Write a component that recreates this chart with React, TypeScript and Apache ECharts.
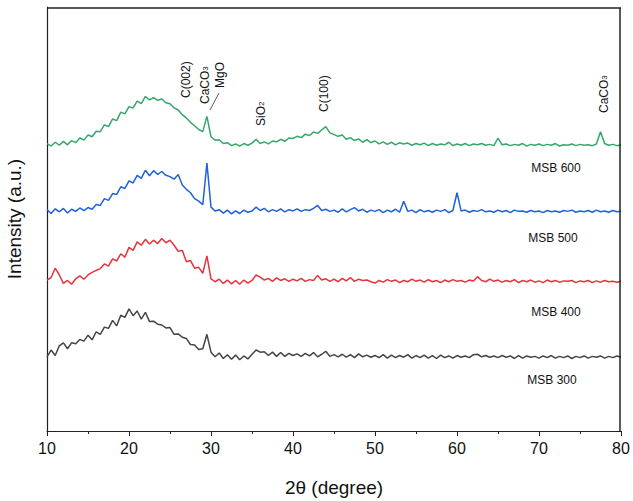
import React, { useEffect, useRef } from 'react';
import * as echarts from 'echarts';

// 2θ from 10 to 80 in 0.5° steps
const twoTheta: number[] = Array.from({ length: 141 }, (_, i) => 10 + i * 0.5);

// relative intensities (a.u.), one row = 5°
const msb300 = [
  0.3, 1.9, 0.6, 2.9, 3.6, 2.2, 3.6, 3.4, 4.4, 4.0,
  5.4, 4.3, 6.2, 5.6, 7.3, 7.0, 8.9, 7.6, 10.1, 9.6,
  11.6, 10.0, 11.1, 9.2, 10.8, 8.6, 8.7, 8.0, 7.8, 7.1,
  7.2, 5.6, 5.7, 4.9, 4.6, 3.2, 3.1, 2.0, 2.2, 5.6,
  1.4, 0.3, 1.2, -0.1, 0.8, -0.3, 0.7, -0.4, 0.5, -0.2,
  0.9, 1.9, 1.4, 1.5, 0.6, 1.4, 0.4, 1.3, 0.4, 1.1,
  0.6, 1.0, 0.4, 1.1, 0.5, 1.3, 0.3, 0.9, 1.6, 0.4,
  0.8, 0.3, 0.9, 0.2, 0.8, 0.1, 1.0, 0.3, 0.7, 0.2,
  0.6, 0.1, 0.8, 0.0, 0.7, 0.1, 0.6, 0.2, 0.8, 0.0,
  0.6, 0.1, 0.7, 0.0, 0.6, -0.1, 0.7, 0.1, 0.5, 0.0,
  0.6, 0.2, 0.5, 0.1, 0.8, 0.9, 0.3, 0.6, 0.2, 0.5,
  0.1, 0.6, 0.2, 0.5, -0.1, 0.6, 0.0, 0.5, 0.2, 0.4,
  0.0, 0.5, 0.1, 0.6, 0.0, 0.4, 0.1, 0.5, -0.1, 0.4,
  0.1, 0.5, 0.0, 0.4, 0.2, 0.5, 0.0, 0.4, 0.1, 0.5,
  0.2,
];

const msb400 = [
  0.6, 1.2, 3.4, 1.8, -0.2, 0.5, -0.4, 0.9, 1.6, 0.8,
  1.8, 2.4, 2.9, 3.3, 4.4, 3.9, 5.6, 5.1, 6.8, 6.0,
  8.3, 7.6, 9.6, 8.8, 10.2, 9.1, 10.0, 9.2, 10.4, 9.4,
  10.0, 8.8, 7.4, 7.6, 4.9, 5.2, 3.4, 3.6, 2.2, 6.3,
  0.9, 0.2, 0.8, -0.2, 0.6, -0.3, 0.5, -0.4, 0.6, -0.1,
  0.5, 1.8, 1.3, 0.6, 1.0, 0.3, 1.1, 0.5, 0.9, 0.3,
  0.8, 0.4, 1.0, 0.3, 0.7, 0.5, 1.7, 0.6, 0.9, 0.3,
  0.8, 0.2, 1.0, 0.4, 1.2, 0.3, 0.8, 0.5, 0.6, 0.2,
  -0.1, 0.5, 0.1, 0.7, 0.3, 0.6, 0.0, 0.5, 0.2, 0.8,
  0.3, 0.6, 0.1, 0.7, 0.2, 0.5, 0.0, 0.6, 0.2, 0.7,
  0.3, 0.5, 0.1, 0.6, 0.4, 1.4, 0.5, 0.2, 0.8, 0.3,
  0.6, 0.1, 0.5, 0.2, 0.7, 0.0, 0.5, 0.2, 0.6, 0.1,
  0.4, 0.0, 0.6, 0.2, 0.5, 0.1, 0.4, 0.3, 0.5, 0.0,
  0.4, 0.2, 0.5, 0.0, 0.4, 0.1, 0.5, 0.2, 0.3, 0.1,
  0.3,
];

const msb500 = [
  0.6, -0.3, 0.8, 0.1, 0.9, -0.2, 0.7, 0.2, 1.0, 0.4,
  1.1, 0.7, 1.8, 1.6, 3.2, 2.8, 4.4, 4.2, 6.0, 5.6,
  7.4, 6.9, 8.7, 8.0, 9.9, 8.6, 9.8, 8.9, 9.6, 8.7,
  8.4, 7.8, 8.9, 6.4, 5.4, 4.6, 3.2, 2.6, 1.8, 11.6,
  1.2, 0.3, 0.6, -0.2, 0.5, -0.4, 0.3, -0.3, 0.5, 0.0,
  0.3, 1.2, 0.4, 0.9, 0.1, 0.6, 0.2, 0.8, 0.1, 0.6,
  0.3, 0.8, 0.2, 0.6, 0.4, 0.9, 1.6, 0.4, 0.7, 0.2,
  0.5, 0.0, 0.8, 0.1, 0.6, 1.1, 0.3, 0.7, 0.0, 0.5,
  0.2, 0.6, -0.1, 0.5, 0.1, 0.7, 0.0, 2.6, 0.2, 0.5,
  -0.1, 0.6, 0.1, 0.4, 0.0, 0.5, 0.2, 0.6, -0.1, 0.4,
  4.6, 0.3, 0.5, 0.0, 0.4, 0.2, 0.6, 0.1, 0.3, 0.0,
  0.5, 0.1, 0.4, -0.1, 0.5, 0.2, 0.3, 0.0, 0.4, 0.1,
  0.3, -0.1, 0.4, 0.1, 0.3, 0.0, 0.4, 0.2, 0.5, 0.0,
  0.3, 0.1, 0.4, 0.0, 0.5, 0.1, 0.3, 0.0, 0.4, 0.1,
  0.2,
];

const msb600 = [
  0.6, 0.0, 0.9, 0.2, 1.1, 0.3, 1.3, 0.8, 1.9, 1.4,
  2.6, 2.2, 3.5, 3.4, 5.0, 4.6, 6.4, 6.0, 8.0, 7.6,
  9.3, 9.0, 10.6, 10.0, 11.7, 10.9, 11.4, 10.8, 11.1, 10.2,
  10.0, 9.0, 8.5, 7.4, 6.6, 5.6, 4.8, 3.9, 3.4, 7.0,
  2.2, 1.4, 1.5, 0.6, 0.8, 0.1, 0.5, 0.0, 0.6, 0.2,
  0.7, 1.6, 0.6, 1.0, 0.5, 1.2, 1.0, 1.6, 1.1, 1.9,
  1.8, 2.3, 2.0, 2.8, 2.5, 3.3, 3.0, 3.8, 4.6, 3.1,
  2.7, 2.3, 2.6, 1.6, 2.0, 1.3, 1.7, 0.9, 1.5, 0.8,
  1.2, 0.5, 1.0, 0.4, 0.9, 0.3, 0.8, 0.5, 0.7, 0.2,
  0.6, 0.3, 0.7, 0.1, 0.6, 0.2, 0.5, 0.3, 0.9, 0.1,
  0.5, 0.2, 0.6, 0.1, 0.5, 0.3, 0.6, 0.2, 0.4, 0.1,
  1.9, 0.3, 0.5, 0.1, 0.4, 0.2, 0.6, 0.0, 0.4, 0.2,
  0.5, 0.1, 0.4, 0.2, 0.6, 0.0, 0.3, 0.2, 0.5, 0.1,
  0.4, 0.2, 0.3, 0.1, 0.5, 3.4, 0.6, 0.2, 0.4, 0.1,
  0.3,
];

const sampleNames = ['MSB 300', 'MSB 400', 'MSB 500', 'MSB 600'];
const sampleData = [msb300, msb400, msb500, msb600];
const offsets = [17.2, 35.0, 51.6, 67.2];
const colors = ['#454545', '#e8333b', '#1f62d8', '#36a76a'];

const labelFont = 'Arial, "Liberation Sans", sans-serif';

const App: React.FC = () => {
  const chartRef = useRef<HTMLDivElement | null>(null);

  useEffect(() => {
    document.body.style.margin = '0';
    let chart: echarts.ECharts | null = null;
    if (chartRef.current) {
      chart = echarts.init(chartRef.current, null, { renderer: 'svg' });

      const vText = (text: string, x: number, y: number, rich?: any) => ({
        type: 'text',
        x,
        y,
        rotation: Math.PI / 2,
        style: {
          text,
          fontSize: 12,
          fontFamily: labelFont,
          fill: '#111',
          align: 'left',
          verticalAlign: 'middle',
          rich,
        },
      });
      const sub = { s: { fontSize: 8, fontFamily: labelFont, fill: '#111' } };
      const frame = {
        show: true,
        onZero: false,
        lineStyle: { color: '#222', width: 1.2 },
      };
      const edge = (x1: number, y1: number, x2: number, y2: number) => ({
        type: 'line',
        z: 100,
        silent: true,
        shape: { x1, y1, x2, y2 },
        style: { stroke: '#222', lineWidth: 1.5 },
      });

      const option = {
        animation: false,
        grid: {
          left: 47,
          right: 12,
          top: 7,
          bottom: 70,
          outerBoundsMode: 'none',
          containLabel: false,
        },
        xAxis: {
          type: 'value',
          min: 10,
          max: 80,
          interval: 10,
          name: '2θ (degree)',
          nameLocation: 'middle',
          nameGap: 47,
          nameTextStyle: { fontSize: 19, fontFamily: labelFont, color: '#111' },
          axisLine: frame,
          axisTick: { length: 5, lineStyle: { color: '#222' } },
          minorTick: { show: true, splitNumber: 2, length: 3, lineStyle: { color: '#222' } },
          axisLabel: { fontSize: 16, fontFamily: labelFont, color: '#111', margin: 9 },
          splitLine: { show: false },
        },
        yAxis: {
          type: 'value',
          min: 0,
          max: 100,
          name: 'Intensity (a.u.)',
          nameLocation: 'middle',
          nameGap: 23,
          nameTextStyle: { fontSize: 19, fontFamily: labelFont, color: '#111' },
          axisLine: frame,
          axisTick: { show: false },
          axisLabel: { show: false },
          splitLine: { show: false },
        },
        series: sampleData.map((d, k) => ({
          type: 'line',
          name: sampleNames[k],
          data: d.map((v, i) => [twoTheta[i], v + offsets[k]]),
          showSymbol: false,
          symbol: 'none',
          lineStyle: { color: colors[k], width: 1.5 },
        })),
        graphic: [
          edge(47, 8, 621, 8),
          edge(620, 8, 620, 431),
          vText('C(002)', 186, 98),
          vText('CaCO{s|3}', 205, 104, sub),
          vText('MgO', 220, 88),
          { type: 'line', shape: { x1: 210, y1: 110, x2: 219, y2: 93 }, style: { stroke: '#333', lineWidth: 0.8 } },
          vText('SiO{s|2}', 261, 126, sub),
          vText('C(100)', 324, 112),
          vText('CaCO{s|3}', 604, 113, sub),
          ...sampleNames.map((n, k) => ({
            type: 'text',
            x: [552, 556, 553, 556][k],
            y: [380, 312, 238, 168][k],
            style: { text: n, fontSize: 12, fontFamily: labelFont, fill: '#111', align: 'center', verticalAlign: 'middle' },
          })),
        ],
      };

      chart.setOption(option as any);
    }
    return () => {
      chart?.dispose();
    };
  }, []);

  return <div ref={chartRef} style={{ width: 633, height: 501 }}></div>;
};

export default App;
